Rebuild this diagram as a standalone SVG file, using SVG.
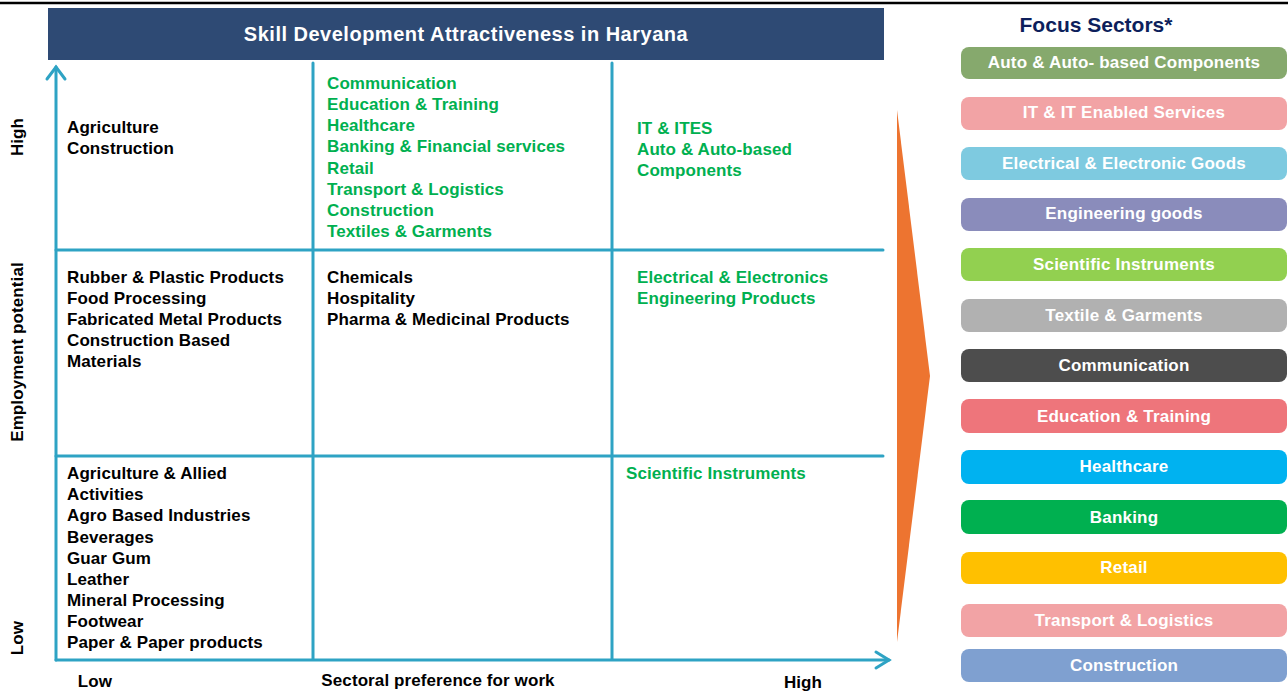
<svg xmlns="http://www.w3.org/2000/svg" width="1288" height="695" viewBox="0 0 1288 695">
<style>
text{font-family:"Liberation Sans",Arial,sans-serif;font-weight:bold}
.cell{font-size:17px;fill:#000;letter-spacing:0.1px}
.g{font-size:17px;fill:#00B050;letter-spacing:0.1px}
.pill{font-size:17px;fill:#fff;text-anchor:middle;letter-spacing:0.2px}
.ax{font-size:17px;fill:#000;letter-spacing:0.1px}
.grid{stroke:#2EA3C4;stroke-width:3;fill:none;stroke-linecap:round}
</style>
<rect width="1288" height="695" fill="#fff"/>
<line x1="0" y1="3" x2="1288" y2="3" stroke="#000" stroke-width="2.5"/>
<g id="title">
<rect x="48" y="8" width="836" height="52" fill="#2E4A74"/>
<text x="466" y="41" font-size="20" fill="#fff" text-anchor="middle" letter-spacing="0.5">Skill Development Attractiveness in Haryana</text>
</g>
<g id="connectors">
<line class="grid" x1="313" y1="63" x2="313" y2="659"/>
<line class="grid" x1="612" y1="63" x2="612" y2="659"/>
<line class="grid" x1="56" y1="250" x2="883" y2="250"/>
<line class="grid" x1="56" y1="456" x2="883" y2="456"/>
<line class="grid" x1="56" y1="660" x2="56" y2="67"/>
<polyline class="grid" points="47,79 56,67 65,79"/>
<line class="grid" x1="56" y1="660" x2="889" y2="660"/>
<polyline class="grid" points="876,652 889,660 876,668"/>
</g>
<g id="axis-labels">
<text class="ax" transform="rotate(-90 23 137)" x="23" y="137" text-anchor="middle">High</text>
<text class="ax" transform="rotate(-90 23 352)" x="23" y="352" text-anchor="middle">Employment potential</text>
<text class="ax" transform="rotate(-90 23 638)" x="23" y="638" text-anchor="middle">Low</text>
<text class="ax" x="95" y="687" text-anchor="middle">Low</text>
<text class="ax" x="438" y="686" text-anchor="middle">Sectoral preference for work</text>
<text class="ax" x="803" y="688" text-anchor="middle">High</text>
</g>
<g id="cell-r1c1">
<text class="cell" x="67" y="133">Agriculture</text>
<text class="cell" x="67" y="154">Construction</text>
</g>
<g id="cell-r1c2">
<text class="g" x="327" y="89">Communication</text>
<text class="g" x="327" y="110">Education &amp; Training</text>
<text class="g" x="327" y="131">Healthcare</text>
<text class="g" x="327" y="152">Banking &amp; Financial services</text>
<text class="g" x="327" y="174">Retail</text>
<text class="g" x="327" y="195">Transport &amp; Logistics</text>
<text class="g" x="327" y="216">Construction</text>
<text class="g" x="327" y="237">Textiles &amp; Garments</text>
</g>
<g id="cell-r1c3">
<text class="g" x="637" y="134">IT &amp; ITES</text>
<text class="g" x="637" y="155">Auto &amp; Auto-based</text>
<text class="g" x="637" y="176">Components</text>
</g>
<g id="cell-r2c1">
<text class="cell" x="67" y="283">Rubber &amp; Plastic Products</text>
<text class="cell" x="67" y="304">Food Processing</text>
<text class="cell" x="67" y="325">Fabricated Metal Products</text>
<text class="cell" x="67" y="346">Construction Based</text>
<text class="cell" x="67" y="367">Materials</text>
</g>
<g id="cell-r2c2">
<text class="cell" x="327" y="283">Chemicals</text>
<text class="cell" x="327" y="304">Hospitality</text>
<text class="cell" x="327" y="325">Pharma &amp; Medicinal Products</text>
</g>
<g id="cell-r2c3">
<text class="g" x="637" y="283">Electrical &amp; Electronics</text>
<text class="g" x="637" y="304">Engineering Products</text>
</g>
<g id="cell-r3c1">
<text class="cell" x="67" y="479">Agriculture &amp; Allied</text>
<text class="cell" x="67" y="500">Activities</text>
<text class="cell" x="67" y="521">Agro Based Industries</text>
<text class="cell" x="67" y="543">Beverages</text>
<text class="cell" x="67" y="564">Guar Gum</text>
<text class="cell" x="67" y="585">Leather</text>
<text class="cell" x="67" y="606">Mineral Processing</text>
<text class="cell" x="67" y="627">Footwear</text>
<text class="cell" x="67" y="648">Paper &amp; Paper products</text>
</g>
<g id="cell-r3c3">
<text class="g" x="626" y="479">Scientific Instruments</text>
</g>
<g id="chevron">
<polygon points="897,110 930,376 897,642" fill="#ED7430"/>
</g>
<g id="focus-title">
<text x="1096" y="32" font-size="21" fill="#0D1F5C" text-anchor="middle">Focus Sectors*</text>
</g>
<g id="pill-auto"><rect x="961" y="47" width="326" height="32" rx="8" fill="#86A96D"/><text class="pill" x="1124" y="68">Auto &amp; Auto- based Components</text></g>
<g id="pill-it"><rect x="961" y="97" width="326" height="33" rx="8" fill="#F2A3A5"/><text class="pill" x="1124" y="118">IT &amp; IT Enabled Services</text></g>
<g id="pill-elec"><rect x="961" y="147" width="326" height="33" rx="8" fill="#7ECAE0"/><text class="pill" x="1124" y="169">Electrical &amp; Electronic Goods</text></g>
<g id="pill-eng"><rect x="961" y="198" width="326" height="33" rx="8" fill="#8A8CBB"/><text class="pill" x="1124" y="219">Engineering goods</text></g>
<g id="pill-sci"><rect x="961" y="248" width="326" height="33" rx="8" fill="#92D050"/><text class="pill" x="1124" y="270">Scientific Instruments</text></g>
<g id="pill-tex"><rect x="961" y="299" width="326" height="33" rx="8" fill="#B1B1B1"/><text class="pill" x="1124" y="321">Textile &amp; Garments</text></g>
<g id="pill-comm"><rect x="961" y="349" width="326" height="33" rx="8" fill="#4D4D4D"/><text class="pill" x="1124" y="371">Communication</text></g>
<g id="pill-edu"><rect x="961" y="399" width="326" height="34" rx="8" fill="#EE757B"/><text class="pill" x="1124" y="422">Education &amp; Training</text></g>
<g id="pill-health"><rect x="961" y="450" width="326" height="34" rx="8" fill="#00B2F0"/><text class="pill" x="1124" y="472">Healthcare</text></g>
<g id="pill-bank"><rect x="961" y="500" width="326" height="34" rx="8" fill="#00B050"/><text class="pill" x="1124" y="523">Banking</text></g>
<g id="pill-retail"><rect x="961" y="552" width="326" height="32" rx="8" fill="#FFC000"/><text class="pill" x="1124" y="573">Retail</text></g>
<g id="pill-trans"><rect x="961" y="604" width="326" height="33" rx="8" fill="#F2A3A5"/><text class="pill" x="1124" y="626">Transport &amp; Logistics</text></g>
<g id="pill-cons"><rect x="961" y="649" width="326" height="33" rx="8" fill="#7FA0D0"/><text class="pill" x="1124" y="671">Construction</text></g>
</svg>
